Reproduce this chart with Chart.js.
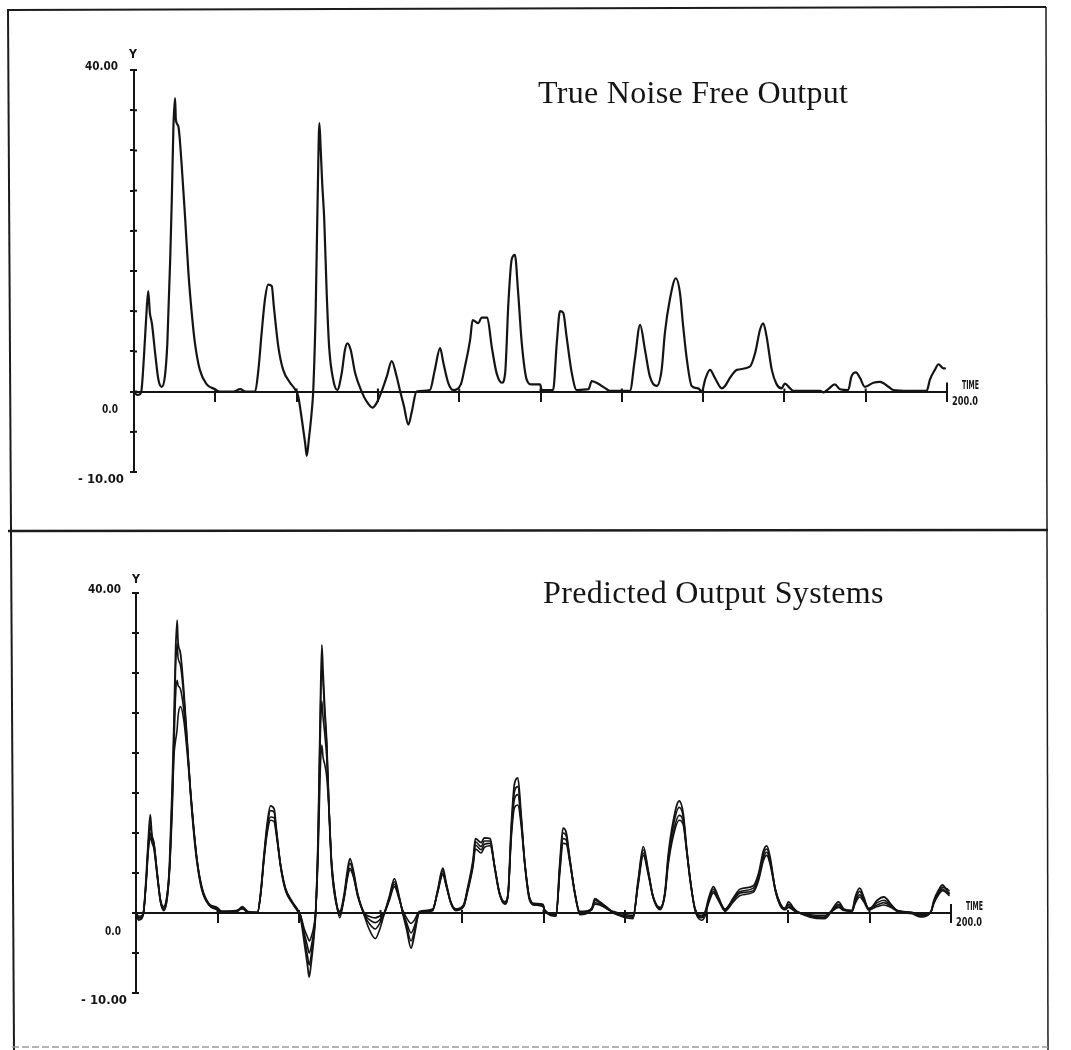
<!DOCTYPE html>
<html>
<head>
<meta charset="utf-8">
<script src="https://cdn.jsdelivr.net/npm/chart.js@4.4.1/dist/chart.umd.min.js"></script>
<style>
html,body{margin:0;padding:0;background:#fff;}
#page{position:relative;width:1071px;height:1050px;overflow:hidden;background:#fff;}
canvas{position:absolute;left:0;}
#c1{top:0;}
#c2{top:530px;}
.title{position:absolute;font-family:'Liberation Serif','Times New Roman',serif;font-size:32px;line-height:32px;color:#151515;white-space:nowrap;}
svg{position:absolute;left:0;top:0;pointer-events:none;}
</style>
</head>
<body>
<div id="page">
<canvas id="c1" width="1071" height="530"></canvas>
<canvas id="c2" width="1071" height="520"></canvas>
<div class="title" id="t1" style="left:538px;top:76px;letter-spacing:0.3px"></div>
<div class="title" id="t2" style="left:543px;top:576px;letter-spacing:0.35px"></div>
<svg width="1071" height="1050">
  <g stroke="#1c1c1c" fill="none">
    <path d="M7,10 L1046,7" stroke-width="2"/>
    <path d="M8,10 L14,1050" stroke-width="2"/>
    <path d="M1046,7 L1048,1050" stroke-width="1.5"/>
    <path d="M8,531 L1048,530" stroke-width="2.5"/>
  </g>
  <path d="M12,1047 L1048,1047" stroke="#9a9a9a" stroke-width="1.5" stroke-dasharray="7 3" fill="none"/>
</svg>
</div>
<script>
// ---------- data ----------
const PANEL_TITLES = ['True Noise Free Output', 'Predicted Output Systems'];
const Y_LABEL_TEXT = ['40.00', '0.0', '- 10.00'];
const Y_LABEL_AT = [40, 0, -10];
const Y_AXIS_NAME = 'Y';
const X_AXIS_NAME = 'TIME';
const X_END_TEXT = '200.0';
const X_MIN = 0, X_MAX = 200, X_STEP = 20;
const Y_MIN = -10, Y_MAX = 40, Y_STEP = 5;

const TIME = [
  0,0.7,1.5,1.9,2.5,3.0,3.5,3.9,4.4,5.2,
  6.0,6.8,7.6,8.2,8.9,9.3,9.7,10.1,10.3,10.9,
  11.7,12.6,13.4,14.2,15.0,16.2,17.9,19.9,21.1,24.5,
  26.1,27.5,29.8,30.6,31.4,32.2,33.0,33.9,34.4,35.5,
  36.7,38.4,39.6,40.4,41.3,42.1,42.5,43.0,43.7,44.1,
  44.7,45.2,45.6,45.9,46.3,46.8,47.4,48.0,49.0,50.0,
  51.1,51.9,52.5,53.3,54.4,56.0,57.2,58.7,59.7,60.9,
  62.2,63.4,64.6,65.4,66.4,67.5,68.3,69.5,72.8,74.0,
  75.3,76.1,77.3,78.5,80.4,81.4,82.7,83.3,84.7,85.5,
  86.9,88.0,89.2,90.5,91.3,92.1,92.9,93.7,94.5,95.4,
  96.6,97.8,99.9,100.3,103.1,104.0,104.8,105.6,106.4,107.7,
  108.9,111.8,112.6,113.8,116.3,117.0,122.0,123.2,124.5,125.7,
  126.9,128.6,129.8,130.6,131.8,133.3,134.3,135.1,136.0,137.2,
  138.8,139.7,140.5,141.7,142.9,144.6,145.4,146.6,148.3,151.5,
  152.8,154.0,154.8,155.6,156.9,158.1,159.3,160.1,161.4,162.2,
  168.8,169.6,170.8,172.4,173.7,175.7,176.5,177.6,178.6,179.8,
  181.9,183.5,185.6,186.8,190.5,192.4,195.0,195.8,197.0,197.9,
  199.1,199.5
];

const TRUE_OUTPUT = [
  0,-0.4,-0.3,0.4,4.8,9.2,12.5,9.8,8.5,4.8,
  1.5,0.6,1.9,6.0,16.4,23.9,33.0,36.5,33.8,33.0,
  28.4,21.4,14.7,9.8,6.0,2.7,0.9,0.3,0,0,
  0.3,0,0,2.7,7.3,11.4,13.3,13.1,10.6,5.6,
  2.7,1.1,0.3,-0.6,-3.5,-6.4,-8.0,-6.0,-2.6,0.2,
  10.2,24.7,33.4,30.5,25.9,21.4,12.3,5.6,1.5,0.2,
  2.3,5.2,6.0,5.2,2.3,0,-1.2,-2.0,-1.4,0,
  1.9,3.8,1.9,0.2,-1.8,-4.1,-2.6,0,0.2,2.7,
  5.4,3.6,1.1,0.2,0.9,3.1,6.5,8.9,8.5,9.2,
  9.2,5.6,2.3,1.1,2.3,11.0,16.4,17.0,12.3,6.0,
  1.5,0.9,0.9,0.2,0.2,6.0,10.0,9.8,6.9,2.3,
  0.2,0.3,1.3,1.1,0.3,0.1,0.1,4.0,8.3,5.2,
  1.9,0.7,2.7,7.3,11.4,14.1,12.3,8.1,4.0,0.7,
  0.4,0,1.5,2.7,1.7,0.4,0.7,1.7,2.7,3.1,
  4.8,7.7,8.5,6.9,2.7,0.9,0.4,1.0,0.4,0.1,
  0.1,-0.1,0.3,0.9,0.3,0.2,1.9,2.4,1.7,0.6,
  1.1,1.2,0.6,0.2,0.1,0.1,0.1,1.5,2.7,3.4,
  2.9,2.9
];

const PRED_A = [
  0,-0.9,-0.6,0.2,4.6,9.0,12.3,9.8,8.6,4.9,
  1.5,0.4,1.8,5.8,16.0,23.5,32.5,36.6,34.0,32.5,
  28.0,21.2,14.8,9.9,6.2,2.8,1.0,0.5,0.1,0.1,
  0.6,0.1,0,2.6,7.2,11.2,13.4,13.0,10.7,5.8,
  2.8,1.2,0.3,-0.7,-3.7,-6.6,-8.0,-6.2,-2.8,0.1,
  10.0,24.5,33.5,30.2,25.8,21.3,12.4,5.8,1.5,0.2,
  2.4,5.4,6.8,5.4,2.4,0,-0.4,-0.6,-0.4,0,
  2.1,4.3,2.0,0.1,-2.0,-4.4,-2.8,0,0.3,2.8,
  5.6,3.8,1.2,0.4,1.0,3.2,6.6,9.3,8.8,9.4,
  9.3,5.7,2.4,1.2,2.4,11.0,16.2,16.9,12.4,6.2,
  1.6,1.0,0.9,0.2,-0.3,6.2,10.6,10.0,7.0,2.4,
  0,0.4,1.8,1.4,0.4,0.1,-0.5,4.0,8.3,5.3,
  2.0,0.5,2.6,7.2,11.4,14.0,12.4,8.2,4.1,0.5,
  -0.3,0.2,1.8,3.3,2.0,0.3,0.8,1.9,3.0,3.4,
  5.0,7.8,8.4,7.0,2.8,1.0,0.6,1.4,0.6,0.2,
  -0.7,-0.5,0.4,1.4,0.5,0.3,2.0,3.1,2.0,0.4,
  1.6,2.0,0.9,0.3,0,-0.3,0.1,1.6,2.9,3.5,
  2.7,2.5
];

const PRED_B = [
  0,-0.6,-0.4,0.3,4.2,8.5,11.0,9.6,8.8,5.0,
  1.6,0.6,2.0,5.5,15.0,22.0,30.5,33.7,32.0,31.0,
  27.2,21.0,15.0,10.2,6.4,3.0,1.1,0.6,0.2,0.2,
  0.8,0.2,0.1,2.5,7.0,10.8,12.8,12.6,10.5,5.9,
  3.0,1.3,0.4,-0.5,-3.0,-5.4,-6.5,-5.2,-2.4,0.2,
  9.5,23.5,31.0,29.0,25.0,21.0,12.6,6.0,1.6,-0.3,
  2.2,5.0,6.2,5.1,2.3,-0.1,-0.8,-1.2,-0.9,0,
  2.0,3.9,1.9,0.2,-1.6,-3.5,-2.3,0,0.4,2.7,
  5.3,3.7,1.3,0.5,1.0,3.0,6.3,8.9,8.3,9.0,
  9.0,5.8,2.5,1.3,2.4,10.5,15.2,15.8,12.0,6.3,
  1.8,1.1,1.0,0.3,-0.4,5.8,10.0,9.6,6.9,2.5,
  -0.2,0.5,1.6,1.3,0.4,0.1,-0.7,3.8,7.9,5.2,
  2.0,0.6,2.5,6.8,10.8,13.2,12.0,8.1,4.2,0.4,
  -0.6,-0.1,1.6,3.0,1.9,0.4,0.9,1.8,2.7,3.1,
  4.7,7.4,8.0,6.7,2.9,1.1,0.5,1.1,0.5,0.2,
  -0.5,-0.4,0.3,1.1,0.4,0.3,1.7,2.7,1.8,0.5,
  1.3,1.6,0.8,0.3,0,-0.4,0,1.4,2.6,3.2,
  3.0,2.8
];

const PRED_C = [
  0,-0.4,-0.3,0.4,4.0,8.0,10.0,9.3,8.5,4.9,
  1.7,0.8,2.2,5.2,14.0,20.5,27.0,29.1,28.5,28.0,
  25.5,20.5,15.2,10.5,6.6,3.2,1.2,0.7,0.2,0.3,
  0.5,0.1,0.1,2.4,6.8,10.4,12.0,11.9,10.2,6.0,
  3.1,1.4,0.5,-0.4,-2.5,-4.2,-5.0,-4.2,-2.0,0.2,
  8.5,21.5,26.5,24.5,22.5,19.5,12.8,6.2,1.8,-0.6,
  2.0,4.6,5.6,4.8,2.2,-0.2,-1.3,-2.0,-1.4,-0.1,
  1.8,3.6,1.8,0.3,-1.2,-2.5,-1.7,0.1,0.4,2.6,
  5.0,3.5,1.3,0.5,0.9,2.9,6.0,8.5,7.9,8.6,
  8.7,5.9,2.6,1.4,2.3,10.0,14.3,14.8,11.6,6.4,
  1.9,1.2,1.1,0.4,-0.2,5.4,9.3,9.1,6.8,2.6,
  0.1,0.6,1.3,1.1,0.3,0.2,-0.3,3.6,7.5,5.0,
  2.1,0.7,2.4,6.4,10.0,12.2,11.4,8.0,4.3,0.3,
  -0.9,-0.3,1.4,2.7,1.7,0.5,0.8,1.6,2.5,2.8,
  4.4,7.0,7.6,6.4,3.0,1.2,0.5,0.9,0.4,0.1,
  -0.3,-0.2,0.3,0.9,0.4,0.2,1.4,2.3,1.6,0.6,
  1.0,1.3,0.7,0.3,0.1,-0.2,0.1,1.2,2.3,2.8,
  2.5,2.4
];

const PRED_D = [
  0,-0.8,-0.5,0.2,3.8,7.6,9.5,8.8,8.0,4.6,
  1.4,0.3,1.6,5.0,13.0,19.5,21.5,23.0,24.5,25.8,
  24.2,19.8,15.0,10.3,6.5,3.0,1.0,0.4,0,0.1,
  0.7,0,0,2.3,6.6,10.0,11.6,11.4,9.9,5.8,
  2.9,1.2,0.3,-0.3,-2.0,-3.0,-3.5,-3.0,-1.5,0.3,
  7.5,17.5,21.0,19.5,18.6,17.0,12.5,6.4,1.9,0,
  1.9,4.4,5.4,4.6,2.1,-0.3,-2.0,-3.2,-2.2,-0.2,
  1.6,3.3,1.7,0.4,-0.6,-1.3,-0.9,0.2,0.5,2.5,
  4.8,3.4,1.2,0.3,0.8,2.7,5.8,8.0,7.5,8.2,
  8.4,5.8,2.4,1.1,2.2,9.4,13.2,13.5,11.0,6.1,
  1.7,1.0,0.8,0.2,-0.1,5.0,8.7,8.6,6.5,2.4,
  0.2,0.4,1.1,1.0,0.3,0,-0.4,3.4,7.2,4.8,
  1.9,0.4,2.2,6.0,9.5,11.6,11.0,7.8,4.0,0.5,
  -0.5,0,1.2,2.5,1.6,0.2,0.6,1.4,2.2,2.6,
  4.1,6.6,7.2,6.1,2.8,0.9,0.4,0.7,0.3,0.1,
  -0.6,-0.4,0.2,0.7,0.3,0.2,1.2,2.0,1.4,0.4,
  0.8,1.0,0.6,0.2,-0.1,-0.5,0.1,1.3,2.5,3.0,
  2.4,2.2
];

// ---------- styling ----------
const INK = '#141414';

function points(values) {
  const n = Math.min(TIME.length, values.length);
  const out = [];
  for (let i = 0; i < n; i++) out.push({x: TIME[i], y: values[i]});
  return out;
}

function drawCondensed(ctx, text, x, y, align, targetW, size) {
  ctx.save();
  ctx.font = 'bold ' + size + "px 'DejaVu Sans', sans-serif";
  ctx.textBaseline = 'middle';
  ctx.textAlign = 'left';
  ctx.fillStyle = INK;
  const w = ctx.measureText(text).width || 1;
  const sx = targetW / w;
  const left = align === 'right' ? x - targetW : (align === 'center' ? x - targetW / 2 : x);
  ctx.translate(left, y);
  ctx.scale(sx, 1);
  ctx.fillText(text, 0, 0);
  ctx.restore();
}

const plotterAxes = {
  id: 'plotterAxes',
  afterDraw(chart, args, o) {
    const ctx = chart.ctx, xs = chart.scales.x, ys = chart.scales.y;
    const ax = xs.getPixelForValue(X_MIN);
    const ay = ys.getPixelForValue(0);
    const xe = xs.getPixelForValue(X_MAX);
    ctx.save();
    ctx.strokeStyle = INK;
    ctx.lineWidth = 2;
    ctx.beginPath();
    for (let v = Y_MIN; v <= Y_MAX; v += Y_STEP) {
      const p = ys.getPixelForValue(v);
      ctx.moveTo(ax, p); ctx.lineTo(ax + 3, p);
    }
    for (let v = X_MIN + X_STEP; v <= X_MAX; v += X_STEP) {
      const p = xs.getPixelForValue(v);
      ctx.moveTo(p, ay); ctx.lineTo(p, ay - (v === X_MAX ? 9 : 3));
    }
    ctx.stroke();
    ctx.restore();
    for (let i = 0; i < Y_LABEL_TEXT.length; i++) {
      drawCondensed(ctx, Y_LABEL_TEXT[i], ax + o.yLabelDx[i], ys.getPixelForValue(Y_LABEL_AT[i]) + o.yLabelDy[i], 'right', o.yLabelW[i], 13);
    }
    drawCondensed(ctx, Y_AXIS_NAME, ax + o.yNameDx, ys.getPixelForValue(Y_MAX) + o.yNameDy, 'center', 8, 12);
    drawCondensed(ctx, X_AXIS_NAME, xe + o.xNameDx, ay + o.xNameDy, 'left', 17, 12);
    drawCondensed(ctx, X_END_TEXT, xe + o.xEndDx, ay + o.xEndDy, 'left', 26, 12);
  }
};

function makeChart(id, datasets, pad, decor) {
  return new Chart(document.getElementById(id), {
    type: 'line',
    data: {datasets: datasets},
    options: {
      responsive: false,
      animation: false,
      devicePixelRatio: 1,
      layout: {padding: pad},
      plugins: {legend: {display: false}, tooltip: {enabled: false}, title: {display: false}, plotterAxes: decor},
      elements: {point: {radius: 0}, line: {cubicInterpolationMode: 'monotone', borderJoinStyle: 'round', borderCapStyle: 'round'}},
      scales: {
        x: {
          type: 'linear', min: X_MIN, max: X_MAX, position: {y: 0},
          ticks: {display: false, stepSize: X_STEP},
          grid: {drawOnChartArea: false, drawTicks: true, tickLength: 9, lineWidth: 2,
                 color: c => (c.tick && c.tick.value === X_MIN) ? 'rgba(0,0,0,0)' : INK},
          border: {display: true, color: INK, width: 2}
        },
        y: {
          type: 'linear', min: Y_MIN, max: Y_MAX, position: 'left',
          ticks: {display: false, stepSize: Y_STEP},
          grid: {drawOnChartArea: false, drawTicks: true, tickLength: 4, lineWidth: 2, color: INK},
          border: {display: true, color: INK, width: 2},
          afterFit: s => { s.width = 0; }
        }
      }
    },
    plugins: [plotterAxes]
  });
}

document.getElementById('t1').textContent = PANEL_TITLES[0];
document.getElementById('t2').textContent = PANEL_TITLES[1];

const decorTop = {yLabelDx: [-16, -16, -10], yLabelDy: [-3, 18, 8], yLabelW: [33, 16, 46],
                  yNameDx: -1, yNameDy: -15, xNameDx: 15, xNameDy: -6, xEndDx: 5, xEndDy: 10};
const decorBottom = {yLabelDx: [-15, -15, -9], yLabelDy: [-3, 19, 8], yLabelW: [33, 16, 46],
                  yNameDx: 0, yNameDy: -13, xNameDx: 15, xNameDy: -6, xEndDx: 5, xEndDy: 10};

makeChart('c1', [
  {label: 'True noise free output', data: points(TRUE_OUTPUT), borderColor: INK, borderWidth: 2.2, fill: false}
], {left: 134, right: 124, top: 70, bottom: 58}, decorTop);

makeChart('c2', [
  {label: 'Predicted system A', data: points(PRED_A), borderColor: INK, borderWidth: 1.8, fill: false},
  {label: 'Predicted system B', data: points(PRED_B), borderColor: INK, borderWidth: 1.6, fill: false},
  {label: 'Predicted system C', data: points(PRED_C), borderColor: INK, borderWidth: 1.6, fill: false},
  {label: 'Predicted system D', data: points(PRED_D), borderColor: INK, borderWidth: 1.6, fill: false}
], {left: 136, right: 120, top: 63, bottom: 57}, decorBottom);
</script>
</body>
</html>
